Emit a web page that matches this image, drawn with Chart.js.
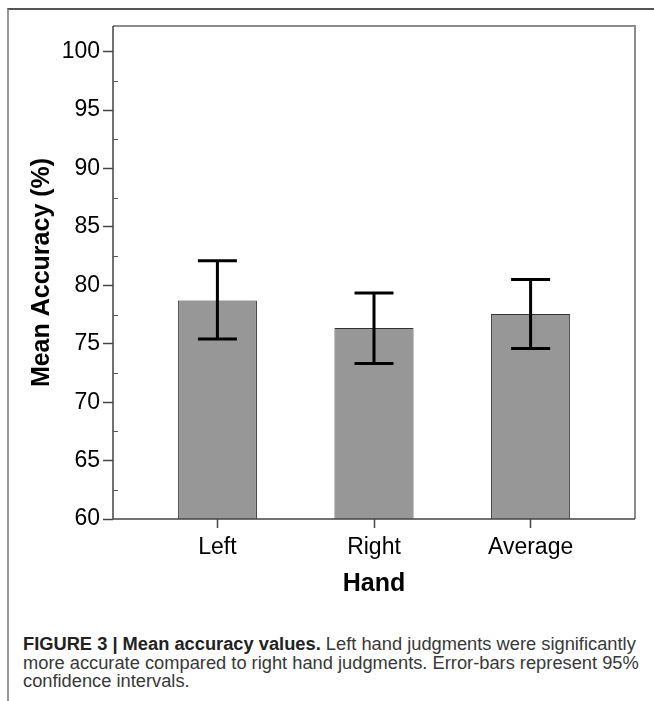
<!DOCTYPE html>
<html>
<head>
<meta charset="utf-8">
<script src="https://cdn.jsdelivr.net/npm/chart.js@4"></script>
<style>
  html, body { margin: 0; padding: 0; background: #fff; }
  body { width: 654px; height: 701px; position: relative; overflow: hidden; }
  .frame {
    position: absolute; left: 7px; top: 8px; right: -10px; bottom: -10px;
    border-top: 2px solid #555; border-left: 2px solid #999;
  }
  .chart-box { position: absolute; left: 0; top: 0; width: 654px; height: 610px; }
  .caption {
    position: absolute; left: 23px; top: 635px; width: 625px;
    font-family: "Liberation Sans", Arial, sans-serif; font-size: 18.3px;
    line-height: 18.5px; color: #383838; white-space: nowrap;
  }
  .caption b { color: #222; }
</style>
</head>
<body>
<div class="frame"></div>
<div class="chart-box"><canvas id="bar-chart"></canvas></div>
<div class="caption">
  <b>FIGURE 3 | Mean accuracy values.</b> Left hand judgments were significantly<br>
  more accurate compared to right hand judgments. Error-bars represent 95%<br>
  confidence intervals.
</div>
<script>
const categories = ["Left", "Right", "Average"];
const meanAccuracy = [78.7, 76.35, 77.55];
const ciLower = [75.4, 73.3, 74.6];
const ciUpper = [82.1, 79.35, 80.5];
const yTicks = [60, 65, 70, 75, 80, 85, 90, 95, 100];
const yMinorTicks = [62.5, 67.5, 72.5, 77.5, 82.5, 87.5, 92.5, 97.5];

const FONT = "'Liberation Sans', Arial, sans-serif";

// box round the plot area, minor ticks and error bars
const extrasPlugin = {
  id: "extras",
  afterDatasetsDraw(chart) {
    const { ctx, chartArea: a, scales } = chart;
    const x = scales.x, y = scales.y;
    ctx.save();
    // top and right frame
    ctx.strokeStyle = "#8c8c8c";
    ctx.lineWidth = 2;
    ctx.beginPath();
    ctx.moveTo(a.left, a.top);
    ctx.lineTo(a.right, a.top);
    ctx.lineTo(a.right, a.bottom);
    ctx.stroke();
    // left and bottom axis lines
    ctx.strokeStyle = "#444";
    ctx.lineWidth = 1.5;
    ctx.beginPath();
    ctx.moveTo(a.left, a.top);
    ctx.lineTo(a.left, a.bottom);
    ctx.lineTo(a.right, a.bottom);
    ctx.stroke();
    // minor ticks inside the axis
    ctx.strokeStyle = "#555";
    ctx.lineWidth = 1;
    yMinorTicks.forEach((v) => {
      const py = Math.round(y.getPixelForValue(v)) + 0.5;
      ctx.beginPath();
      ctx.moveTo(a.left, py);
      ctx.lineTo(a.left + 5, py);
      ctx.stroke();
    });
    // error bars
    ctx.strokeStyle = "#000";
    ctx.lineWidth = 3;
    categories.forEach((c, i) => {
      const px = x.getPixelForValue(i);
      const top = y.getPixelForValue(ciUpper[i]);
      const bot = y.getPixelForValue(ciLower[i]);
      ctx.beginPath();
      ctx.moveTo(px, top);
      ctx.lineTo(px, bot);
      ctx.moveTo(px - 19.5, top);
      ctx.lineTo(px + 19.5, top);
      ctx.moveTo(px - 19.5, bot);
      ctx.lineTo(px + 19.5, bot);
      ctx.stroke();
    });
    ctx.restore();
  },
};

const canvas = document.getElementById("bar-chart");
new Chart(canvas, {
  type: "bar",
  data: {
    datasets: [
      {
        data: meanAccuracy.map((v, i) => ({ x: i, y: v })),
        backgroundColor: "#979797",
        borderColor: "#333",
        borderWidth: 1,
        barPercentage: 0.505,
        categoryPercentage: 1,
      },
    ],
  },
  options: {
    responsive: true,
    maintainAspectRatio: false,
    animation: false,
    layout: { padding: { left: 0, right: 19, top: 26, bottom: 0 } },
    plugins: { legend: { display: false }, tooltip: { enabled: false } },
    scales: {
      x: {
        type: "linear",
        offset: false,
        min: -2 / 3,
        max: 2 + 2 / 3,
        afterBuildTicks: (s) => {
          s.ticks = categories.map((c, i) => ({ value: i }));
        },
        afterFit: (s) => {
          s.height = 91;
        },
        grid: { offset: false, drawOnChartArea: false, tickLength: 9, tickColor: "#444", tickWidth: 1.5 },
        border: { display: false },
        ticks: {
          padding: 6,
          color: "#000",
          font: { family: FONT, size: 23 },
          callback: (v) => categories[v] ?? "",
        },
        title: {
          display: true,
          text: "Hand",
          color: "#000",
          font: { family: FONT, size: 25, weight: "bold", lineHeight: 1.2 },
          padding: { top: 0, bottom: 11 },
        },
      },
      y: {
        min: 60,
        max: 102.2,
        afterBuildTicks: (s) => {
          s.ticks = yTicks.map((v) => ({ value: v }));
        },
        afterFit: (s) => {
          s.width = 113;
        },
        grid: { drawOnChartArea: false, tickLength: 10, tickColor: "#444", tickWidth: 1.5 },
        border: { display: false },
        ticks: {
          padding: 3,
          color: "#000",
          font: { family: FONT, size: 23 },
        },
        title: {
          display: true,
          text: "Mean Accuracy (%)",
          color: "#000",
          font: { family: FONT, size: 25, weight: "bold", lineHeight: 1.2 },
          padding: { top: 27, bottom: 0 },
        },
      },
    },
  },
  plugins: [extrasPlugin],
});
</script>
</body>
</html>
